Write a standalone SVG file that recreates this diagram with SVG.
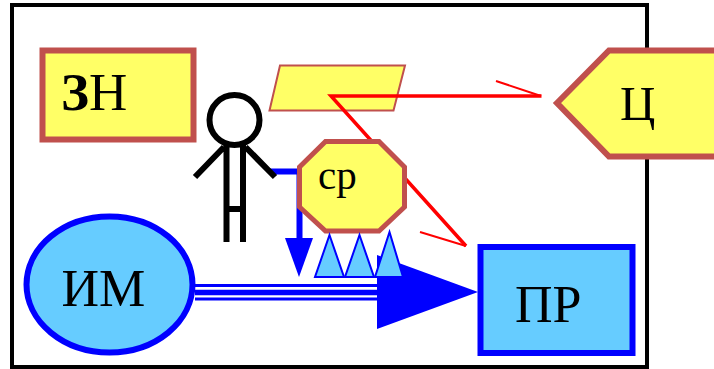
<svg xmlns="http://www.w3.org/2000/svg" width="714" height="369" viewBox="0 0 714 369">
<style>
text{font-family:"Liberation Serif","DejaVu Serif",serif;fill:#000}
.y{fill:#ffff66;stroke:#c0504d;stroke-linejoin:miter}
.b{fill:#66ccff;stroke:#0000ff}
.k{fill:none;stroke:#000;stroke-width:6}
.r{fill:none;stroke:#ff0000}
</style>
<rect width="714" height="369" fill="#fff"/>
<rect id="frame" x="12" y="5" width="635" height="362" fill="#fff" stroke="#000" stroke-width="4"/>
<g id="zn"><rect class="y" x="42.5" y="50.5" width="151" height="89" stroke-width="6"/>
<text x="61" y="110" font-size="53"><tspan font-weight="bold">З</tspan>Н</text></g>
<g id="param"><polygon class="y" points="280,65.5 405,65.5 393.5,110.5 269.5,110.5" stroke-width="2"/></g>
<g id="connectors">
<path class="r" stroke-width="3.5" d="M541.5,96H331L466,246"/>
<path class="r" stroke-width="2" d="M496,81L541,96M420,232L466,246"/>
<path fill="none" stroke="#0000ff" stroke-width="6" d="M270,171.500H299.500V240"/>
<polygon fill="#0000ff" points="285,238 313,238 299,277"/>
<path fill="none" stroke="#0000ff" d="M195,285.500H380M195,299H380" stroke-width="3"/>
<path fill="none" stroke="#0000ff" d="M195,292.500H380" stroke-width="5.500"/>
<polygon fill="#0000ff" points="377,255 478,292 377,329"/>
</g>
<g id="person"><circle class="k" cx="234.500" cy="120" r="25" fill="#fff"/>
<path class="k" d="M226.500,145V242M243,145V242M226.500,209H243M224,147L195,177M245.500,147L275,177"/></g>
<g id="ch"><polygon class="y" points="325.500,141.500 379,141.500 404.500,167 404.500,207 379,231 325.500,231 299.500,207 299.500,167" stroke-width="5"/>
<text x="318" y="189" font-size="41">ср</text></g>
<g id="tri1"><polygon class="b" stroke-width="2" points="329.500,235 344,277 315,277"/></g>
<g id="tri2"><polygon class="b" stroke-width="2" points="359.500,235 374,277 345,277"/></g>
<g id="tri3"><polygon class="b" stroke-width="2" points="389.500,232 403,277 375,277"/></g>
<g id="im"><ellipse class="b" cx="109.500" cy="284.500" rx="83" ry="68" stroke-width="6"/>
<text x="61.500" y="306" font-size="52">ИМ</text></g>
<g id="pr"><rect class="b" x="480.500" y="247" width="152" height="106" stroke-width="6"/>
<text x="515" y="322" font-size="52">ПР</text></g>
<g id="c"><polygon class="y" points="557,103 609,50.500 720,50.500 720,156.500 609,156.500" stroke-width="6"/>
<text x="620" y="119.500" font-size="49">Ц</text></g>
</svg>
